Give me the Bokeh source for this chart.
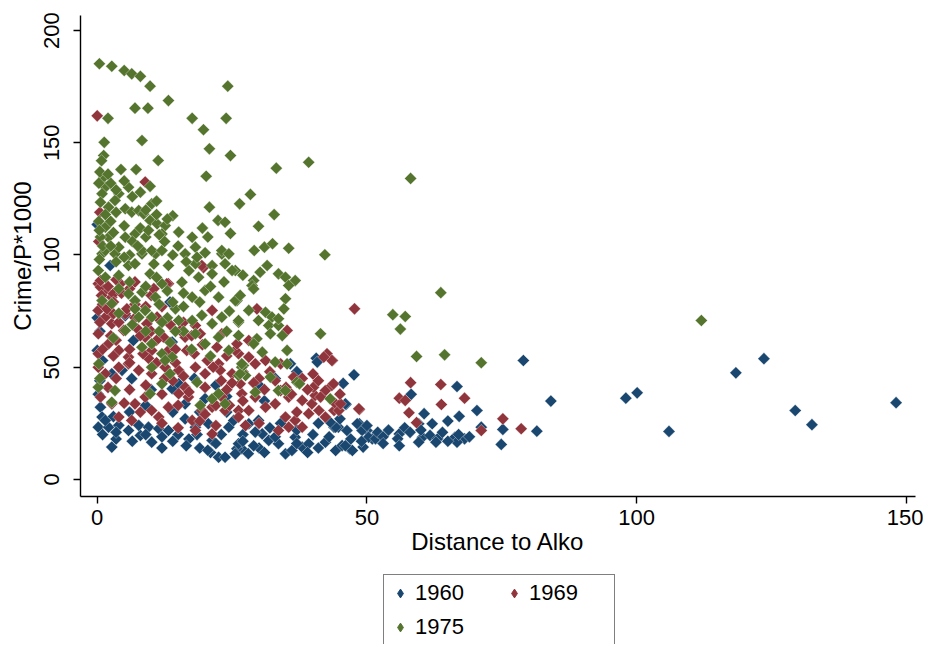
import numpy as np
from bokeh.plotting import figure
from bokeh.models import Range1d, Legend, LegendItem, FixedTicker, ColumnDataSource
from bokeh.layouts import column
from bokeh.embed import file_html
from bokeh.resources import INLINE

# ---------------- data ----------------
years = ["1960", "1969", "1975"]

x1960 = [79.0, 84.1, 81.5, 98.0, 100.1, 106.0, 118.4, 123.6, 129.4, 132.5, 148.1,
         75.2, 71.2, 74.9, 70.4, 67.1, 66.7, 58.2, 47.6, 46.1, 60.6, 62.1, 59.6, 50.0, 48.6,
         51.0, 56.0, 55.7, 60.3, 61.7, 63.1, 59.6, 62.8, 66.3, 68.1, 66.7, 43.9, 44.7, 46.8,
         49.3, 40.6, 35.8, 40.8, 45.6,
         28.1, 29.9, 30.6, 31.8, 33.6, 34.9, 36.7, 38.0, 39.2, 36.1, 42.3, 44.2, 45.4, 44.2,
         46.0, 46.3, 47.3, 48.2, 49.1, 50.3, 51.6, 26.8, 25.9, 43.2, 29.3,
         2.7, 10.1, 8.0, 0.2, 2.1, 4.0, 5.8, 7.7, 9.5, 11.4, 13.2, 0.6, 0.9, 1.5, 2.7, 4.6,
         6.4, 13.9, 15.1, 16.3, 16.3, 18.2, 20.6, 21.3, 22.5, 23.7, 25.6, 26.2, 24.4, 25.3,
         0.0, 2.4, 0.2, 0.0, 5.2, 13.5, 13.9, 0.0, 6.7, 0.5, 1.0, 0.5, 0.2, 10.0, 18.0, 22.0,
         30.0, 33.0, 37.0, 20.0, 24.0, 31.0, 14.0,
         3.5, 12.0, 15.0, 17.0, 19.0, 21.0, 23.0, 27.0, 28.0, 30.0, 32.0, 34.0, 37.0, 40.0,
         41.0, 45.0, 47.0, 50.0, 52.0, 53.0, 54.0, 57.0, 64.0, 65.0, 69.0, 3.0, 6.0, 9.0,
         19.0, 24.0,
         1.0, 3.5, 6.5, 9.0, 12.0, 14.0, 16.5, 18.5, 20.5, 22.0, 27.0, 29.0, 31.0, 33.0,
         37.0, 39.0, 41.0, 43.0, 46.0, 49.0, 53.0, 56.0, 58.0, 60.0, 65.0, 67.0]
y1960 = [53.0, 34.9, 21.5, 36.2, 38.6, 21.4, 47.5, 53.8, 30.7, 24.4, 34.2,
         22.3, 23.3, 15.6, 30.7, 28.1, 41.4, 37.9, 46.6, 33.4, 29.3, 24.8, 24.8, 21.8, 24.8,
         18.1, 20.3, 18.1, 18.8, 19.6, 18.1, 16.6, 16.6, 18.8, 18.1, 16.6, 23.3, 23.3, 13.7,
         14.4, 54.0, 51.5, 52.3, 42.8,
         24.8, 26.3, 20.3, 17.4, 15.9, 11.4, 18.8, 14.4, 15.9, 12.9, 16.6, 12.9, 15.1, 23.3,
         33.7, 21.8, 12.9, 24.8, 21.8, 18.8, 18.1, 13.7, 13.7, 25.5, 21.1,
         14.4, 16.6, 19.6, 23.3, 23.3, 24.1, 21.8, 24.1, 23.3, 22.6, 21.8, 32.2, 27.8, 26.3,
         47.1, 48.6, 44.9, 40.4, 42.6, 33.7, 27.0, 23.3, 24.8, 17.4, 9.9, 9.9, 11.4, 15.9,
         23.3, 26.3,
         113.6, 95.3, 75.3, 72.0, 73.0, 79.0, 61.2, 57.5, 61.9, 66.0, 53.0, 44.0, 38.0, 40.0,
         45.0, 42.0, 42.0, 45.0, 48.0, 36.0, 30.0, 35.0, 30.0,
         18.0, 19.0, 20.0, 18.0, 14.0, 12.0, 20.0, 20.0, 11.5, 14.0, 23.0, 25.0, 22.0, 20.0,
         25.0, 27.0, 18.0, 24.0, 21.0, 19.0, 22.0, 23.0, 21.0, 26.0, 19.0, 28.0, 30.0, 33.0,
         30.0, 37.0,
         20.0, 21.0, 17.0, 20.0, 14.0, 17.0, 15.0, 20.0, 13.0, 16.0, 17.0, 15.0, 12.0, 19.0,
         16.0, 12.0, 14.0, 19.0, 15.0, 17.0, 16.0, 15.0, 21.0, 22.0, 17.0, 20.0]

x1969 = [0.0, 8.9, 19.7, 47.7, 43.6, 58.1, 63.7, 68.1, 56.0, 57.1, 63.8, 78.6, 75.2, 71.2,
         48.6, 43.9, 57.8, 59.2,
         29.6, 35.2, 28.1, 26.2, 28.1, 29.3, 31.2, 42.6, 43.5,
         26.8, 29.3, 26.2, 28.1, 31.2, 33.0, 35.5, 38.0, 39.8, 40.4, 42.3, 43.5, 44.2, 44.8,
         34.9, 36.7, 39.2, 41.1, 33.6, 35.5, 38.0, 42.3,
         0.2, 1.5, 4.0, 5.8, 7.7, 10.1, 12.6, 15.1, 16.3, 18.2, 20.0, 22.5, 25.0, 0.6, 2.7,
         4.0, 6.4, 7.0, 8.9, 10.1, 11.4, 13.2, 15.1, 16.9, 17.6, 19.4, 21.3, 23.1, 23.7, 26.2,
         21.3, 18.2,
         0.2, 1.5, 0.2, 1.5, 2.7, 0.2, 2.1, 0.2, 4.0, 5.8, 8.9, 10.1, 13.2, 16.3, 19.4, 18.2,
         21.3, 23.1, 25.6, 5.2, 2.7,
         42.0, 48.5, 34.0, 36.4, 40.1, 43.8, 41.4, 45.1, 34.0, 26.5, 22.8, 20.4, 16.6, 15.4,
         12.3, 11.1, 9.2, 4.9, 3.0, 3.0, 4.3, 0.6, 0.6, 19.1, 22.2, 25.9, 12.9,
         0.3, 0.5, 4.5, 7.0, 10.0, 12.0, 7.0,
         3.5, 6.0, 7.5, 9.5, 11.0, 13.0, 14.5, 16.0, 18.0, 19.5, 21.5, 24.0, 25.0, 23.0, 20.0,
         17.0, 14.0, 12.0, 9.0, 6.0, 3.5, 2.0, 5.0, 8.0, 12.0, 15.0, 19.0, 22.0, 24.5, 27.0,
         30.0, 32.0, 35.0, 38.0, 40.0, 37.0, 30.0, 27.5, 3.0, 1.0, 3.5, 6.0, 9.0, 10.5,
         1.0, 2.5, 0.5, 1.8, 3.0, 0.8, 2.0, 4.0, 5.5, 7.0, 8.0, 6.0, 8.5, 11.0, 12.5, 14.5,
         16.0, 17.5, 13.5, 10.0, 15.0, 20.0, 22.0, 24.0, 27.0, 29.0, 31.0, 33.0, 36.0, 39.0,
         41.0, 45.0]
y1969 = [162.0, 132.5, 94.4, 76.0, 53.0, 43.1, 42.3, 36.2, 36.2, 35.2, 33.4, 22.6, 27.0, 21.8,
         31.2, 30.7, 29.7, 25.3,
         76.0, 66.4, 61.9, 56.0, 54.5, 51.5, 53.0, 56.0, 53.0,
         38.2, 36.7, 30.7, 30.7, 32.2, 33.7, 36.7, 35.2, 33.7, 37.4, 39.6, 41.9, 33.7, 30.7,
         27.8, 26.3, 29.3, 30.7, 21.8, 23.3, 23.3, 27.8,
         50.0, 47.1, 50.0, 51.5, 48.6, 47.1, 50.0, 48.6, 41.1, 50.0, 47.1, 51.5, 47.1, 36.7,
         33.7, 27.8, 26.3, 33.7, 36.7, 30.7, 27.8, 32.2, 38.2, 36.7, 26.3, 30.7, 32.2, 36.7,
         30.7, 27.8, 20.3, 21.8,
         87.2, 84.2, 75.3, 72.3, 69.4, 64.9, 60.4, 56.0, 57.5, 54.5, 63.4, 57.5, 87.2, 63.4,
         95.3, 68.6, 75.3, 64.9, 57.5, 73.8, 81.2,
         54.5, 31.5, 51.5, 45.6, 41.1, 42.6, 36.7, 33.7, 39.6, 42.6, 48.6, 53.0, 57.5, 66.4,
         63.4, 72.3, 69.4, 66.4, 73.8, 82.7, 87.2, 85.7, 88.6, 64.9, 58.9, 60.4, 87.2,
         106.0, 119.0, 83.0, 78.0, 82.0, 77.0, 88.0,
         62.0, 58.0, 67.0, 54.0, 62.0, 57.0, 52.0, 46.0, 56.0, 60.0, 50.0, 55.0, 43.0, 44.0,
         41.0, 39.0, 44.0, 38.0, 42.0, 40.0, 45.0, 41.0, 34.0, 30.0, 25.0, 23.0, 26.0, 24.0,
         33.0, 35.0, 45.0, 48.0, 41.0, 45.0, 47.0, 30.0, 25.0, 24.0, 55.0, 78.0, 89.0, 85.0,
         77.0, 85.0,
         58.0, 64.0, 70.0, 76.0, 79.0, 82.0, 86.0, 70.0, 76.0, 72.0, 64.0, 52.0, 56.0, 52.0,
         45.0, 58.0, 70.0, 64.0, 69.0, 66.0, 33.0, 29.0, 33.0, 40.0, 48.0, 43.0, 40.0, 44.0,
         38.0, 40.0, 44.0, 38.0]

x1975 = [0.4, 2.7, 5.0, 6.4, 8.0, 9.8, 13.2, 7.0, 9.4, 2.0, 17.6, 19.7, 23.9, 24.2, 20.8, 24.7,
         8.3, 1.3, 1.2, 11.3, 4.4, 7.2, 20.2, 9.8, 26.4, 20.8, 22.4, 23.7, 24.7,
         33.2, 39.2, 28.4, 32.8, 29.9, 29.1, 31.0, 32.5, 42.2,
         58.1, 63.7, 54.8, 57.1, 56.2, 59.2, 64.4, 71.2, 112.0,
         31.5, 30.2, 29.0, 28.7, 29.0, 33.6, 34.9, 36.7, 35.5, 25.6, 34.9, 34.6, 25.9, 28.1,
         31.2, 32.4, 29.9, 31.8, 33.6, 33.6, 26.2, 26.2, 34.3, 32.1, 29.6, 29.0, 41.4, 35.2,
         30.6, 27.1, 33.0,
         26.8, 27.5, 26.2, 35.2, 32.1, 37.0, 29.3, 33.6, 34.9, 43.2, 37.5,
         0.2, 3.3, 2.7, 10.1, 13.5, 12.0, 9.8, 18.5, 19.1, 21.3, 22.5, 23.7, 26.5,
         0.9, 3.3, 8.3, 10.8, 16.3, 23.1, 5.8, 7.0, 13.2, 18.2, 21.3, 23.7, 1.5, 4.0, 9.8,
         12.0, 15.7, 18.8, 21.3, 25.0, 0.9, 2.7, 5.8, 7.0, 8.3, 10.8, 8.9, 7.7, 10.1, 14.5,
         17.6, 20.0, 22.5, 25.6, 15.1, 17.6, 19.4, 21.3, 23.1, 26.2, 5.2, 8.3, 10.1, 12.0,
         13.9, 12.6, 18.2, 20.0, 22.5, 24.4, 26.8, 0.2,
         1.2, 1.5, 0.9, 0.6, 2.1, 4.0, 3.3, 5.2, 6.4, 5.8, 7.7, 8.6, 10.1, 9.8, 11.1, 12.6,
         12.0, 15.1, 17.6, 18.2, 5.2, 7.0, 4.0, 1.5, 2.1, 1.5, 8.3, 10.1, 12.0, 23.1, 24.4,
         35.5, 0.3, 0.5, 0.3, 0.6, 0.4, 0.3, 14.0, 20.5, 19.5,
         0.5, 0.8, 1.5, 0.4, 1.0, 2.5, 3.0, 2.5, 3.5, 5.0, 6.5, 8.0, 9.0, 11.0, 10.5, 6.0, 3.5,
         12.5, 14.0, 15.0, 16.5, 18.5, 20.0, 17.0,
         11.5, 13.0, 14.0, 16.0, 19.0, 21.0, 23.5, 24.5, 16.0, 13.5, 17.5, 21.0, 24.0, 26.5,
         27.0,
         2.0, 3.5, 5.0, 6.5, 8.0, 9.0, 11.0, 2.5, 5.0, 7.5, 9.5, 11.5, 13.0,
         4.0, 6.0, 9.0, 11.0, 13.0, 7.0, 11.5, 4.0, 6.5, 9.0, 12.0, 14.5, 3.0, 16.0]
y1975 = [185.2, 184.1, 182.2, 180.7, 179.6, 175.2, 168.8, 165.4, 165.4, 160.9, 160.9, 155.8,
         160.9, 175.2, 147.3, 144.3, 151.0, 150.2, 144.3, 142.1, 138.1, 138.1, 135.1, 130.6,
         122.8, 121.3, 115.4, 114.6, 109.6,
         138.7, 141.3, 127.0, 118.0, 112.8, 102.0, 103.5, 105.0, 100.1,
         134.1, 83.2, 73.4, 72.6, 67.0, 54.8, 55.5, 52.0, 70.8,
         95.3, 92.3, 88.6, 86.4, 84.9, 91.6, 90.1, 88.6, 86.4, 93.1, 80.5, 76.0, 79.7, 75.3,
         74.5, 72.3, 70.8, 68.6, 68.6, 71.6, 70.1, 64.1, 64.1, 64.9, 62.7, 60.4, 64.9, 57.5,
         56.7, 50.8, 52.3,
         50.0, 46.3, 46.3, 51.5, 45.6, 43.3, 38.9, 39.6, 39.6, 35.9, 42.6,
         41.1, 39.6, 34.4, 50.0, 47.1, 42.6, 38.2, 43.3, 33.0, 35.9, 38.2, 33.7, 47.1,
         100.5, 100.5, 100.5, 100.5, 100.5, 100.5, 95.3, 96.1, 95.3, 96.1, 95.3, 96.1, 90.1,
         90.9, 91.6, 87.2, 87.9, 90.1, 91.6, 93.1, 79.7, 78.3, 82.7, 79.7, 83.4, 81.2, 75.3,
         72.3, 72.3, 76.0, 81.2, 84.2, 81.2, 79.7, 70.8, 70.8, 73.1, 69.4, 72.3, 70.8, 66.4,
         58.9, 60.4, 56.0, 54.5, 53.0, 64.9, 60.4, 63.4, 57.5, 51.5, 93.1,
         134.7, 130.2, 127.3, 123.5, 121.3, 127.3, 124.3, 120.6, 119.1, 130.2, 119.8, 118.3,
         122.8, 115.4, 113.9, 113.1, 109.4, 110.2, 107.9, 103.5, 107.9, 109.4, 103.5, 112.4,
         107.9, 102.0, 102.0, 102.0, 102.0, 102.0, 100.5,
         103.0, 51.5, 45.0, 115.0, 108.0, 98.0, 132.0, 117.5, 108.0, 112.0,
         137.0, 142.0, 118.0, 111.0, 104.0, 115.0, 110.0, 132.0, 119.0, 113.0, 106.0, 112.0,
         108.0, 118.0, 96.0, 100.0, 97.0, 106.0, 100.0, 104.0, 97.0, 99.0, 101.0, 93.0,
         66.0, 72.0, 79.0, 83.0, 79.0, 86.0, 88.0, 75.0, 66.0, 61.0, 58.0, 55.0, 66.0, 82.0,
         91.0,
         136.0, 129.0, 133.0, 126.0, 128.0, 120.0, 124.0, 104.0, 99.0, 104.0, 111.0, 109.0,
         116.0,
         85.0, 88.0, 86.0, 90.0, 84.0, 76.0, 78.0, 74.0, 69.0, 66.0, 70.0, 66.0, 63.0, 77.0]

xticks = [0, 50, 100, 150]
yticks = [0, 50, 100, 150, 200]

colors = ["#1a476f", "#90353b", "#55752f"]
FONT = "Liberation Sans"

sources = [ColumnDataSource(dict(x=xs, y=ys))
           for xs, ys in zip([x1960, x1969, x1975], [y1960, y1969, y1975])]

p = figure(frame_width=835, frame_height=481, output_backend="svg", toolbar_location=None,
           x_range=Range1d(-3.1, 151.7), y_range=Range1d(-7.6, 206.7))
p.min_border_left = 80
p.min_border_right = 8
p.min_border_top = 15
p.min_border_bottom = 68
p.outline_line_color = None
p.grid.visible = False
p.background_fill_color = "white"
p.border_fill_color = "white"

for src, c in zip(sources, colors):
    p.scatter("x", "y", source=src, marker="square", size=8.6, angle=np.pi / 4,
              fill_color=c, line_color="white", line_alpha=0.7, line_width=0.5)

for ax in (p.xaxis[0], p.yaxis[0]):
    ax.axis_line_color = "black"
    ax.axis_line_width = 1.4
    ax.major_tick_line_color = "black"
    ax.major_tick_line_width = 1.4
    ax.major_tick_out = 7
    ax.major_tick_in = 0
    ax.minor_tick_line_color = None
    ax.major_label_text_font = FONT
    ax.major_label_text_font_size = "22px"
    ax.major_label_text_color = "black"
    ax.axis_label_text_font = FONT
    ax.axis_label_text_font_size = "24px"
    ax.axis_label_text_font_style = "normal"
    ax.axis_label_text_color = "black"

p.xaxis.ticker = FixedTicker(ticks=xticks)
p.yaxis.ticker = FixedTicker(ticks=yticks)
p.xaxis.axis_label = "Distance to Alko"
p.yaxis.axis_label = "Crime/P*1000"
p.xaxis.major_label_standoff = 6
p.xaxis.axis_label_standoff = 0
p.yaxis.major_label_orientation = "vertical"
p.yaxis.major_label_standoff = 14
p.yaxis.axis_label_standoff = 6

# ---- legend strip below the plot (its renderers fall outside its own ranges) ----
lg = figure(width=923, height=80, output_backend="svg", toolbar_location=None,
            x_range=Range1d(-1001, -1000), y_range=Range1d(-1001, -1000), min_border=0)
lg.axis.visible = False
lg.grid.visible = False
lg.outline_line_color = None
items = []
for yr, src, c in zip(years, sources, colors):
    r = lg.scatter("x", "y", source=src, marker="diamond", size=10, fill_color=c, line_color=c)
    items.append(LegendItem(label=yr, renderers=[r]))

legend = Legend(items=items, orientation="horizontal", ncols=2, location=(303, -2))
legend.label_text_font = FONT
legend.label_text_font_size = "22px"
legend.label_text_color = "black"
legend.label_width = 80
legend.label_standoff = 4
legend.glyph_width = 22
legend.glyph_height = 26
legend.spacing = 8
legend.padding = 5
legend.margin = 0
legend.border_line_color = "black"
legend.border_line_width = 1.4
legend.background_fill_color = "white"
lg.add_layout(legend, "center")

layout = column(p, lg, spacing=0)
open("out.html", "w").write(file_html(layout, INLINE))
